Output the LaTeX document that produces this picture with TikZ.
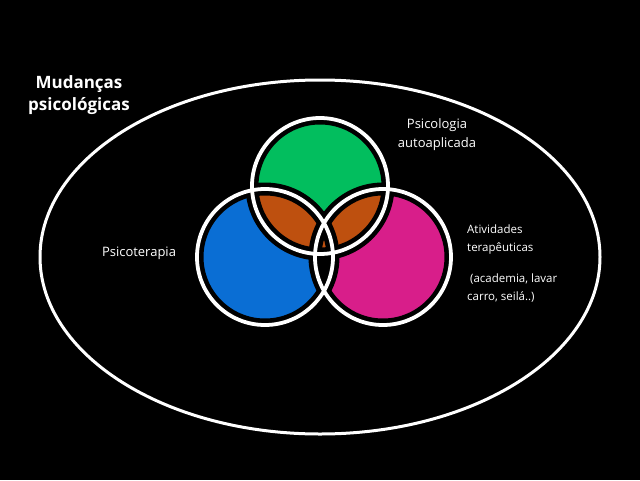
\documentclass[tikz,border=0pt]{standalone}
\usepackage{fontspec}
\setmainfont{Open Sans}
\usetikzlibrary{positioning}
\definecolor{venngreen}{HTML}{02BE5E}
\definecolor{vennblue}{HTML}{0A6ED4}
\definecolor{vennpink}{HTML}{D81E8A}
\definecolor{vennorange}{HTML}{BE500F}

\begin{document}
\begin{tikzpicture}[
    x=1pt, y=-1pt,
    txt/.style={
        text=white, align=center, inner sep=0pt,
        font=\fontsize{13}{19}\selectfont
    },
    title/.style={
        txt, font=\fontsize{17}{22.5}\selectfont\bfseries
    },
    smalltxt/.style={
        txt, align=left, font=\fontsize{11.5}{17.5}\selectfont
    },
    gap/.style={draw=black, line width=13pt},
    ring/.style={draw=white, line width=3.8pt}
]
\fill[black] (0,0) rectangle (640,480);
\useasboundingbox (0,0) rectangle (640,480);

% centres of the three sets
\coordinate (cg) at (320,186);
\coordinate (cb) at (265,257);
\coordinate (cp) at (383,257);

% outer set
\draw[white, line width=3pt] (320,257) ellipse [x radius=280pt, y radius=177pt];

% colour fills
\fill[vennblue] (cb) circle [radius=68pt];
\fill[vennpink] (cp) circle [radius=68pt];
\begin{scope}
  \clip (cb) circle [radius=68pt];
  \fill[black] (cp) circle [radius=68pt];
\end{scope}
\fill[venngreen] (cg) circle [radius=68pt];
\begin{scope}
  \clip (cg) circle [radius=68pt];
  \fill[vennorange] (cb) circle [radius=68pt];
  \fill[vennorange] (cp) circle [radius=68pt];
\end{scope}

% outlines
\foreach \c in {cg, cb, cp}
  \draw[gap] (\c) circle [radius=68pt];
\foreach \c in {cg, cb, cp}
  \draw[ring] (\c) circle [radius=68pt];

% labels
\node[title] (mud) at (79,95) {Mudanças\\psicológicas};
\node[txt] (auto) at (437,135) {Psicologia\\autoaplicada};
\node[txt] (psico) at (139,253) {Psicoterapia};
\node[smalltxt, anchor=north west] (ativ) at (467,225)
  {Atividades\\terapêuticas\\[14pt] \ (academia, lavar\\carro, seilá..)};
\end{tikzpicture}
\end{document}
